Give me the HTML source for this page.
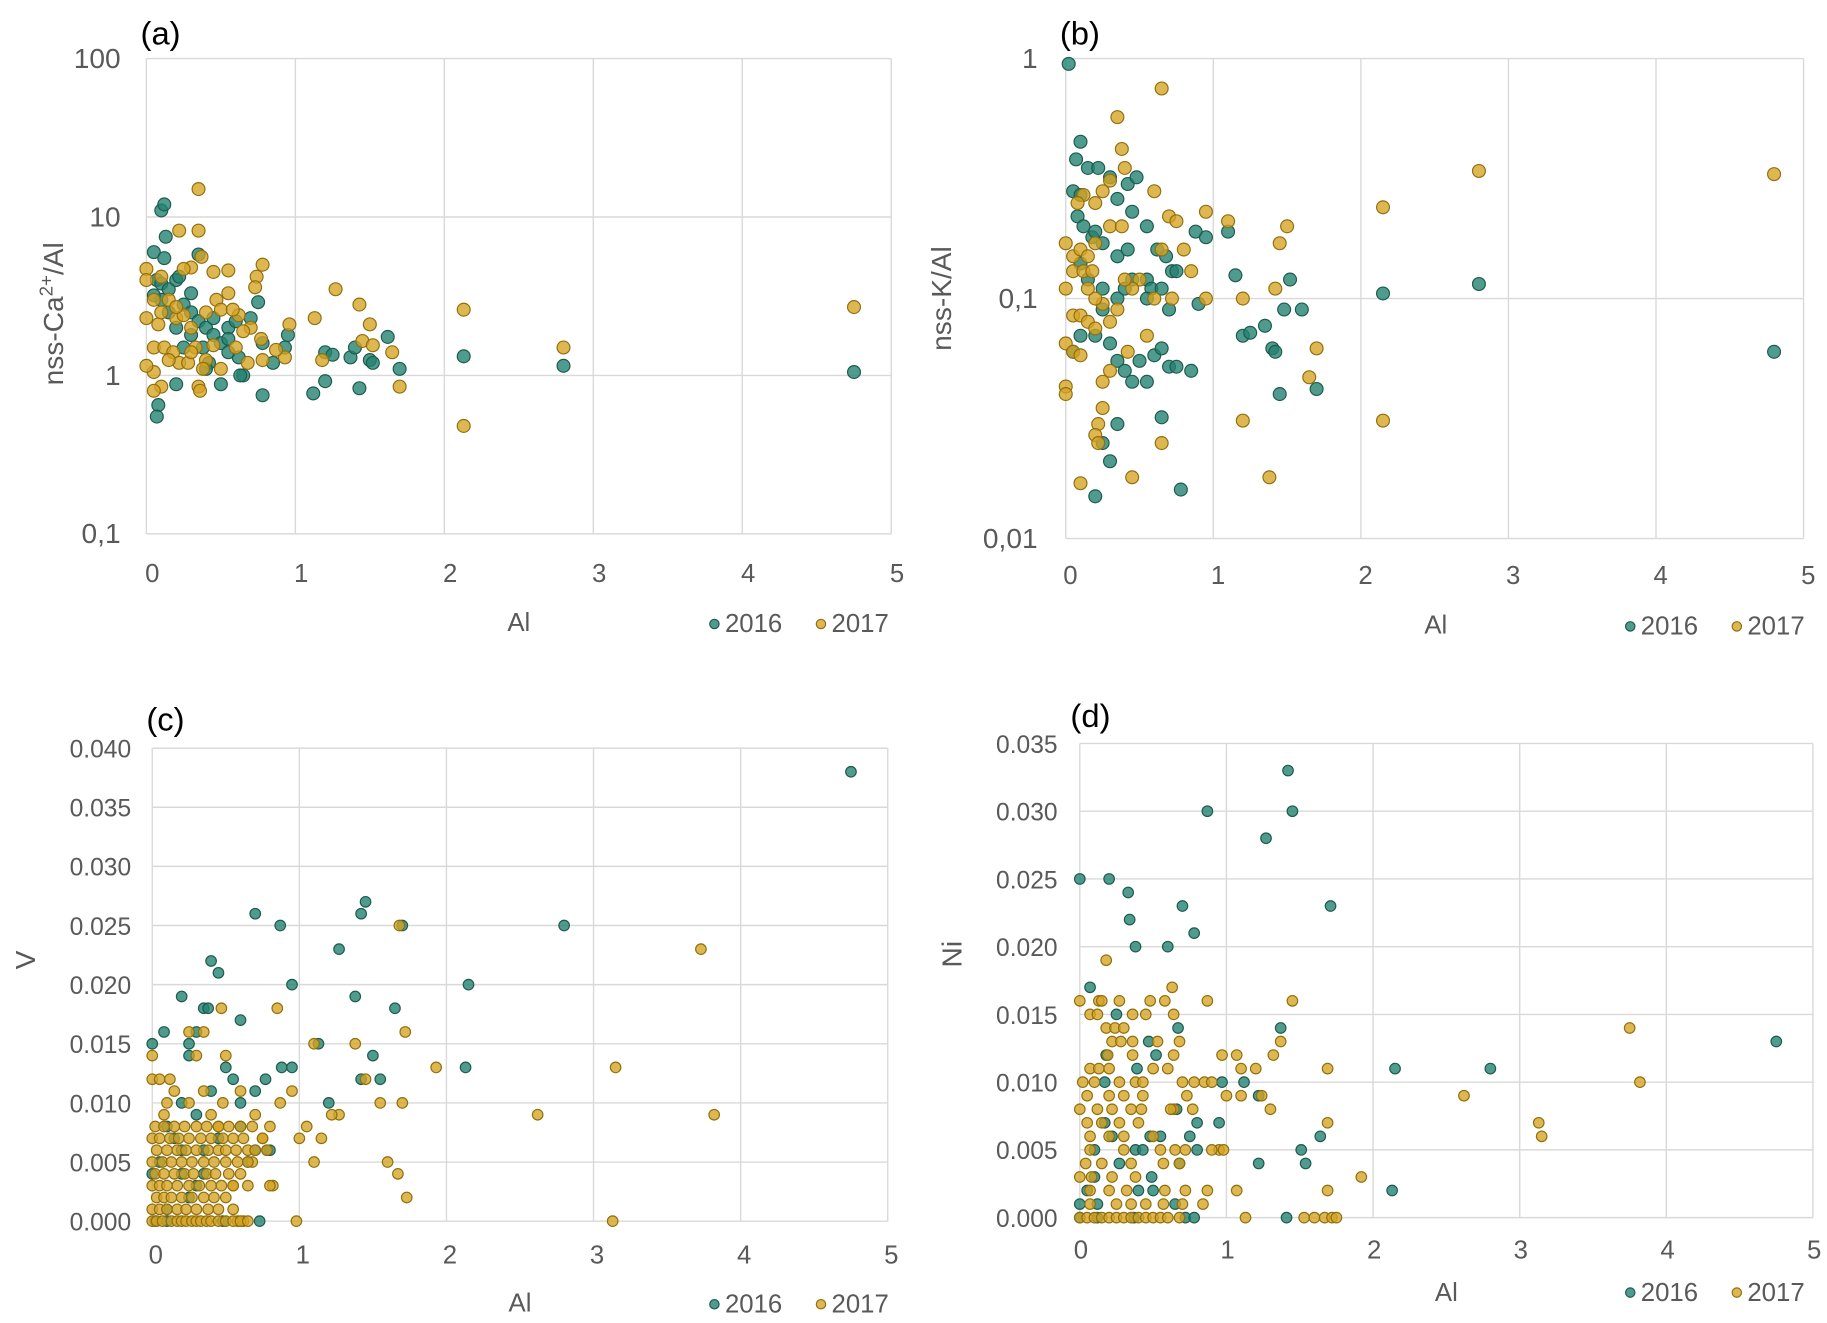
<!DOCTYPE html>
<html><head><meta charset="utf-8"><style>
html,body{margin:0;padding:0;background:#fff;}
svg{display:block;font-family:"Liberation Sans",sans-serif;}
</style></head><body>
<svg id="fig" width="1827" height="1323" viewBox="0 0 1560 1130" preserveAspectRatio="none" xmlns="http://www.w3.org/2000/svg"></svg>
<script>
// ---- Panel (a): nss-Ca2+/Al vs Al (log) ----
const xTicks = [0,1,2,3,4,5];
const aYTicks = [0.1,1,10,100];
const aYTickLabels = ["0,1","1","10","100"];
const a2016 = [[0.05,6],[0.1,11],[0.12,12],[0.13,7.5],[0.12,5.5],[0.07,4],[0.1,3.8],[0.15,3.5],[0.2,4],[0.22,4.2],[0.3,3.3],[0.35,5.8],[0.25,2.8],[0.3,2.5],[0.35,2.2],[0.4,2],[0.45,1.8],[0.5,1.6],[0.55,2],[0.6,2.2],[0.7,2.3],[0.75,2.9],[0.78,1.6],[0.85,1.2],[0.93,1.5],[0.95,1.8],[0.55,1.7],[0.62,1.3],[0.65,1],[0.63,1],[0.5,0.88],[0.2,0.88],[0.08,0.65],[0.07,0.55],[0.78,0.75],[1.12,0.77],[1.2,0.92],[1.2,1.4],[1.25,1.35],[1.37,1.3],[1.4,1.5],[1.5,1.25],[1.52,1.2],[1.43,0.83],[1.62,1.75],[1.7,1.1],[2.13,1.32],[2.8,1.15],[4.75,1.05],[0.3,1.8],[0.38,1.5],[0.42,1.2],[0.25,1.5],[0.15,2.5],[0.2,2],[0.1,3],[0.05,3.2],[0.45,2.3],[0.55,1.4],[0.4,1.1]];
const a2017 = [[0.35,15],[0.22,8.2],[0.35,8.2],[0.37,5.6],[0.3,4.8],[0.25,4.7],[0.45,4.5],[0.55,4.6],[0.78,5],[0.74,4.2],[0.73,3.6],[0.55,3.3],[0.47,3],[0,4.7],[0,4],[0.1,4.2],[0.05,3],[0.15,3],[0.2,2.3],[0.25,2.4],[0.3,2],[0,2.3],[0.08,2.1],[0.4,2.5],[0.5,2.6],[0.62,2.4],[0.58,2.6],[0.7,2],[0.77,1.7],[0.96,2.1],[1.13,2.3],[1.27,3.5],[1.43,2.8],[1.5,2.1],[1.45,1.65],[1.52,1.55],[1.65,1.4],[1.7,0.85],[1.18,1.25],[0.93,1.3],[0.87,1.45],[0.78,1.25],[0.68,1.2],[0.6,1.5],[0.5,1.1],[0.4,1.25],[0.35,0.85],[0.36,0.8],[0.1,0.85],[0.05,0.8],[0.05,1.05],[0,1.15],[0.05,1.5],[0.12,1.5],[0.18,1.4],[0.22,1.2],[0.28,1.2],[0.33,1.5],[0.38,1.1],[2.13,2.6],[2.13,0.48],[2.8,1.5],[4.75,2.7],[0.15,1.25],[0.45,1.55],[0.65,1.9],[0.1,2.5],[0.2,2.7],[0.3,1.4]];
// ---- Panel (b): nss-K/Al vs Al (log) ----
const bYTicks = [0.01,0.1,1];
const bYTickLabels = ["0,01","0,1","1"];
const b2016 = [[0.02,0.95],[0.1,0.45],[0.07,0.38],[0.05,0.28],[0.1,0.27],[0.15,0.35],[0.22,0.35],[0.3,0.32],[0.35,0.26],[0.42,0.3],[0.48,0.32],[0.08,0.22],[0.12,0.2],[0.18,0.18],[0.2,0.19],[0.25,0.17],[0.35,0.15],[0.42,0.16],[0.45,0.23],[0.55,0.2],[0.62,0.16],[0.68,0.15],[0.72,0.13],[0.75,0.13],[0.88,0.19],[0.95,0.18],[1.1,0.19],[0.55,0.12],[0.58,0.11],[0.65,0.11],[0.7,0.09],[0.55,0.1],[0.45,0.12],[0.4,0.11],[0.35,0.1],[0.25,0.11],[0.15,0.12],[0.1,0.14],[0.05,0.06],[0.1,0.07],[0.2,0.07],[0.25,0.09],[0.3,0.065],[0.35,0.055],[0.4,0.05],[0.45,0.045],[0.5,0.055],[0.55,0.045],[0.6,0.058],[0.65,0.062],[0.7,0.052],[0.75,0.052],[0.85,0.05],[0.9,0.095],[1.15,0.125],[1.2,0.07],[1.25,0.072],[1.35,0.077],[1.4,0.062],[1.42,0.06],[1.45,0.04],[1.48,0.09],[1.52,0.12],[1.6,0.09],[1.7,0.042],[0.35,0.03],[0.25,0.025],[0.3,0.021],[0.2,0.015],[0.78,0.016],[0.65,0.032],[2.15,0.105],[2.8,0.115],[4.8,0.06]];
const b2017 = [[0.65,0.75],[0.35,0.57],[0.38,0.42],[0.4,0.35],[0.3,0.31],[0.25,0.28],[0.2,0.25],[0.12,0.27],[0.08,0.25],[0,0.17],[0.05,0.15],[0.1,0.16],[0.15,0.15],[0.2,0.17],[0.3,0.2],[0.38,0.2],[0.6,0.28],[0.65,0.16],[0.7,0.22],[0.75,0.21],[0.8,0.16],[0.95,0.23],[0.85,0.13],[0.72,0.1],[1.1,0.21],[1.5,0.2],[1.45,0.17],[1.42,0.11],[1.2,0.1],[0.95,0.1],[0.6,0.1],[0.5,0.12],[0.45,0.11],[0.4,0.12],[0.35,0.09],[0.3,0.08],[0.25,0.095],[0.2,0.1],[0.15,0.11],[0,0.11],[0.05,0.085],[0.1,0.085],[0.15,0.08],[0.2,0.075],[0,0.065],[0.05,0.06],[0.1,0.058],[0,0.043],[0,0.04],[0.25,0.035],[0.22,0.03],[0.2,0.027],[0.22,0.025],[0.1,0.017],[0.45,0.018],[0.65,0.025],[0.25,0.045],[0.3,0.05],[0.42,0.06],[0.55,0.07],[1.2,0.031],[1.38,0.018],[1.65,0.047],[1.7,0.062],[2.15,0.24],[2.8,0.34],[2.15,0.031],[4.8,0.33],[0.05,0.13],[0.12,0.13],[0.18,0.13]];
// ---- Panel (c): V vs Al ----
const cYTicks = [0,0.005,0.01,0.015,0.02,0.025,0.03,0.035,0.04];
const cYTickLabels = ["0.000","0.005","0.010","0.015","0.020","0.025","0.030","0.035","0.040"];
const c2016 = [[4.75,0.038],[0.7,0.026],[0.87,0.025],[1.45,0.027],[1.42,0.026],[1.7,0.025],[2.8,0.025],[1.27,0.023],[0.4,0.022],[0.45,0.021],[0.95,0.02],[2.15,0.02],[0.2,0.019],[1.38,0.019],[0.35,0.018],[0.38,0.018],[1.65,0.018],[0.6,0.017],[0,0.015],[0.08,0.016],[0.25,0.015],[0.3,0.016],[1.13,0.015],[1.5,0.014],[2.13,0.013],[0.95,0.013],[0.88,0.013],[0.5,0.013],[0.25,0.014],[1.42,0.012],[1.55,0.012],[0.77,0.012],[1.2,0.01],[0.4,0.011],[0.6,0.01],[0.55,0.012],[0.7,0.011],[0.3,0.009],[0.2,0.01],[0.1,0.008],[0.15,0.007],[0.35,0.006],[0.45,0.007],[0.6,0.008],[0.65,0.005],[0.78,0.006],[0.8,0.006],[0,0.004],[0.05,0.005],[0.2,0.004],[0.3,0.003],[0.25,0.002],[0.1,0.001],[0.02,0],[0.48,0],[0.73,0],[0.1,0],[0.35,0.004],[0.7,0.006],[0.2,0.006]];
const c2017 = [[3.73,0.023],[3.82,0.009],[2.62,0.009],[3.15,0.013],[3.13,0],[1.93,0.013],[1.72,0.016],[1.68,0.025],[1.7,0.01],[1.67,0.004],[1.73,0.002],[1.6,0.005],[1.55,0.01],[1.45,0.012],[1.38,0.015],[1.27,0.009],[1.22,0.009],[1.15,0.007],[1.1,0.015],[1.1,0.005],[1.05,0.008],[1,0.007],[0.98,0],[0.95,0.011],[0.85,0.018],[0.87,0.01],[0.82,0.003],[0.8,0.008],[0.75,0.007],[0.7,0.009],[0.68,0.005],[0.65,0.006],[0.62,0],[0.58,0],[0.55,0.003],[0.6,0.011],[0.5,0.014],[0.48,0.01],[0.45,0.008],[0.47,0.018],[0.35,0.016],[0.3,0.014],[0.25,0.016],[0,0.012],[0,0.014],[0.05,0.012],[0.1,0.01],[0.12,0.012],[0.15,0.011],[0.08,0.009],[0.4,0.009],[0.35,0.011],[0.25,0.01],
[0.02,0.008],[0.08,0.008],[0.15,0.008],[0.22,0.008],[0.3,0.008],[0.37,0.008],[0.45,0.008],[0.52,0.008],[0.6,0.008],[0.68,0.008],
[0,0.007],[0.05,0.007],[0.12,0.007],[0.18,0.007],[0.25,0.007],[0.33,0.007],[0.4,0.007],[0.48,0.007],[0.55,0.007],[0.62,0.007],[0.75,0.007],
[0.03,0.006],[0.1,0.006],[0.17,0.006],[0.23,0.006],[0.3,0.006],[0.38,0.006],[0.45,0.006],[0.5,0.006],[0.57,0.006],[0.7,0.006],[0.78,0.006],
[0,0.005],[0.07,0.005],[0.13,0.005],[0.2,0.005],[0.27,0.005],[0.35,0.005],[0.42,0.005],[0.5,0.005],[0.58,0.005],[0.65,0.005],
[0.02,0.004],[0.08,0.004],[0.15,0.004],[0.22,0.004],[0.28,0.004],[0.37,0.004],[0.43,0.004],[0.52,0.004],[0.6,0.004],
[0,0.003],[0.05,0.003],[0.1,0.003],[0.17,0.003],[0.25,0.003],[0.32,0.003],[0.4,0.003],[0.47,0.003],[0.55,0.003],[0.65,0.003],[0.8,0.003],
[0.03,0.002],[0.08,0.002],[0.13,0.002],[0.2,0.002],[0.27,0.002],[0.35,0.002],[0.42,0.002],[0.5,0.002],
[0,0.001],[0.05,0.001],[0.1,0.001],[0.17,0.001],[0.23,0.001],[0.3,0.001],[0.38,0.001],[0.45,0.001],[0.55,0.001],
[0,0],[0.03,0],[0.07,0],[0.13,0],[0.17,0],[0.2,0],[0.23,0],[0.27,0],[0.3,0],[0.33,0],[0.37,0],[0.4,0],[0.45,0],[0.5,0],[0.55,0],[0.6,0],[0.65,0]];
// ---- Panel (d): Ni vs Al ----
const dYTicks = [0,0.005,0.01,0.015,0.02,0.025,0.03,0.035];
const dYTickLabels = ["0.000","0.005","0.010","0.015","0.020","0.025","0.030","0.035"];
const d2016 = [[1.42,0.033],[0.87,0.03],[1.45,0.03],[1.27,0.028],[0,0.025],[0.2,0.025],[0.33,0.024],[0.7,0.023],[1.71,0.023],[0.34,0.022],[0.78,0.021],[0.38,0.02],[0.6,0.02],[0.07,0.017],[0.25,0.015],[0.67,0.014],[1.37,0.014],[0.47,0.013],[4.75,0.013],[0.18,0.012],[0.52,0.012],[0.39,0.011],[2.15,0.011],[2.8,0.011],[0.97,0.01],[1.12,0.01],[0.17,0.01],[1.22,0.009],[0.66,0.008],[0.8,0.007],[0.95,0.007],[0.17,0.007],[0.75,0.006],[1.64,0.006],[0.48,0.006],[0.55,0.006],[0.1,0.005],[0.38,0.005],[0.43,0.005],[0.8,0.005],[1.51,0.005],[0.27,0.004],[1.22,0.004],[1.54,0.004],[0.68,0.004],[0.1,0.003],[0.49,0.003],[0.4,0.002],[0.5,0.002],[2.13,0.002],[0,0.001],[0.12,0.001],[0.65,0.001],[0,0],[0.12,0],[0.37,0],[0.72,0],[0.78,0],[1.41,0],[0.05,0.002],[0.22,0.006]];
const d2017 = [[3.75,0.014],[3.82,0.01],[2.62,0.009],[3.13,0.007],[3.15,0.006],[1.92,0.003],[1.69,0.011],[1.69,0.007],[1.69,0.002],[1.45,0.016],[1.37,0.013],[1.32,0.012],[1.2,0.011],[1.1,0.011],[1.07,0.012],[1,0.009],[1.1,0.009],[1.24,0.009],[1.3,0.008],[1.07,0.002],[1.13,0],[1.53,0],[1.6,0],[1.67,0],[1.72,0],[1.75,0],[0.87,0.016],[0.97,0.012],[0.95,0.005],[0.9,0.005],[0.98,0.005],[0.87,0.002],[0.84,0.001],[0.78,0.01],[0.85,0.01],[0.9,0.01],[0.7,0.01],[0.77,0.008],[0.64,0.008],[0.6,0.011],[0.64,0.012],[0.68,0.013],[0.64,0.015],[0.63,0.017],[0.58,0.016],[0.48,0.016],[0.45,0.015],[0.36,0.015],[0.27,0.016],[0.13,0.016],[0.15,0.016],[0,0.016],[0.07,0.015],[0.12,0.015],[0.18,0.019],[0.18,0.014],[0.24,0.014],[0.3,0.014],[0.22,0.013],[0.28,0.013],[0.36,0.013],[0.53,0.013],[0.36,0.012],[0.5,0.011],[0.19,0.012],[0.07,0.011],[0.13,0.011],[0.2,0.011],[0.02,0.01],[0.1,0.01],[0.27,0.01],[0.38,0.01],[0.43,0.01],[0.05,0.009],[0.2,0.009],[0.3,0.009],[0.43,0.009],[0.73,0.009],[0,0.008],[0.12,0.008],[0.22,0.008],[0.35,0.008],[0.42,0.008],[0.62,0.008],[0.05,0.007],[0.15,0.007],[0.27,0.007],[0.4,0.007],[0.07,0.006],[0.2,0.006],[0.3,0.006],[0.5,0.006],[0.07,0.005],[0.3,0.005],[0.55,0.005],[0.65,0.005],[0.72,0.005],[0.04,0.004],[0.15,0.004],[0.35,0.004],[0.57,0.004],[0.68,0.004],[0,0.003],[0.08,0.003],[0.22,0.003],[0.38,0.003],[0.07,0.002],[0.2,0.002],[0.32,0.002],[0.58,0.002],[0.72,0.002],[0.7,0.001],[0.57,0.001],[0.45,0.001],[0.35,0.001],[0.25,0.001],[0.07,0.001],[0,0],[0.05,0],[0.1,0],[0.15,0],[0.2,0],[0.25,0],[0.3,0],[0.35,0],[0.4,0],[0.45,0],[0.5,0],[0.55,0],[0.6,0],[0.68,0]];

const NS="http://www.w3.org/2000/svg";
const svg=document.getElementById('fig');
function mk(tag,attrs,parent,text){const e=document.createElementNS(NS,tag);for(const k in attrs)e.setAttribute(k,attrs[k]);if(text!==undefined)e.textContent=text;(parent||svg).appendChild(e);return e;}
const C16={fill:'rgba(35,130,112,0.8)',stroke:'#1d5a4c'};
const C17={fill:'rgba(214,163,32,0.78)',stroke:'#8f6f10'};

function panel(p){
  const g=mk('g',{});
  
  
  const xs=v=>p.L+(p.R-p.L)*v/5;
  const ys=p.log?(v=>p.B-(p.B-p.T)*(Math.log10(v)-Math.log10(p.ymin))/(Math.log10(p.ymax)-Math.log10(p.ymin)))
               :(v=>p.B-(p.B-p.T)*(v-p.ymin)/(p.ymax-p.ymin));
  // grid
  p.yt.forEach((v,i)=>{const y=ys(v);
    const l=mk('line',{x1:p.L,x2:p.R,y1:y,y2:y,stroke:'#d9d9d9','stroke-width':1.2},g);
    
    const t=mk('text',{x:p.L-p.ylo,y:y+8,'text-anchor':'end','font-size':p.yfs,fill:'#595959'},g,p.yl[i]);
    
  });
  xTicks.forEach(v=>{const x=xs(v);
    const l=mk('line',{x1:x,x2:x,y1:p.T,y2:p.B,stroke:'#d9d9d9','stroke-width':1.2},g);
    
    const t=mk('text',{x:x+p.xoff,y:p.xly,'text-anchor':'middle','font-size':22,fill:'#595959'},g,String(v));
    
  });
  // points
  [[p.s16,C16,'2016'],[p.s17,C17,'2017']].forEach(([arr,c,nm])=>{
    arr.forEach(d=>{
      const ci=mk('circle',{cx:xs(d[0]),cy:ys(d[1]),r:p.r,fill:c.fill,stroke:c.stroke,'stroke-width':1},g);
      
      
    });
  });
  const lab=mk('text',{x:p.labx,y:p.laby,'font-size':28,fill:'#000'},g,'('+p.id+')');
  
  const yt=mk('text',{x:0,y:0,transform:`translate(${p.ytx},${p.yty}) rotate(-90)`,'text-anchor':'middle','font-size':24,fill:'#595959'},g);
  
  if(p.ca){yt.appendChild(document.createTextNode('nss-Ca'));
    const s=mk('tspan',{dy:-9,'font-size':16},yt,'2+');
    const s2=mk('tspan',{dy:9},yt,'/Al');
  } else yt.textContent=p.ytitle;
  const xt=mk('text',{x:p.xtx,y:p.xty,'text-anchor':'middle','font-size':22,fill:'#595959'},g,'Al');
  
  const lg=mk('g',{},g);
  
  const e1=mk('circle',{cx:p.lgx,cy:p.lgy-7,r:4,fill:C16.fill,stroke:C16.stroke},lg);
  
  const t1=mk('text',{x:p.lgx+9,y:p.lgy,'font-size':22,fill:'#595959'},lg,'2016');
  
  const e2=mk('circle',{cx:p.lgx+91,cy:p.lgy-7,r:4,fill:C17.fill,stroke:C17.stroke},lg);
  
  const t2=mk('text',{x:p.lgx+100,y:p.lgy,'font-size':22,fill:'#595959'},lg,'2017');
  
}

panel({id:'a',L:125,R:761,T:50,B:456,log:true,ymin:0.1,ymax:100,yt:aYTicks,yl:aYTickLabels,ylo:22,yfs:24,xoff:5,xly:497,s16:a2016,s17:a2017,r:5.5,labx:120,laby:38,ca:true,ytx:54,yty:268,xtx:443,xty:539,lgx:610,lgy:540});
panel({id:'b',L:910,R:1540,T:50,B:460,log:true,ymin:0.01,ymax:1,yt:bYTicks,yl:bYTickLabels,ylo:24,yfs:24,xoff:4,xly:499,s16:b2016,s17:b2017,r:5.5,labx:905,laby:38,ytitle:'nss-K/Al',ytx:812,yty:255,xtx:1226,xty:541,lgx:1392,lgy:542});
panel({id:'c',L:130,R:758,T:639,B:1043,log:false,ymin:0,ymax:0.04,yt:cYTicks,yl:cYTickLabels,ylo:18,yfs:21,xoff:3,xly:1079,s16:c2016,s17:c2017,r:4.5,labx:125,laby:624,ytitle:'V',ytx:30,yty:820,xtx:444,xty:1120,lgx:610,lgy:1121});
panel({id:'d',L:922,R:1548,T:635,B:1040,log:false,ymin:0,ymax:0.035,yt:dYTicks,yl:dYTickLabels,ylo:19,yfs:21,xoff:1,xly:1075,s16:d2016,s17:d2017,r:4.5,labx:914,laby:621,ytitle:'Ni',ytx:821,yty:815,xtx:1235,xty:1111,lgx:1392,lgy:1111});
</script>
</body></html>
